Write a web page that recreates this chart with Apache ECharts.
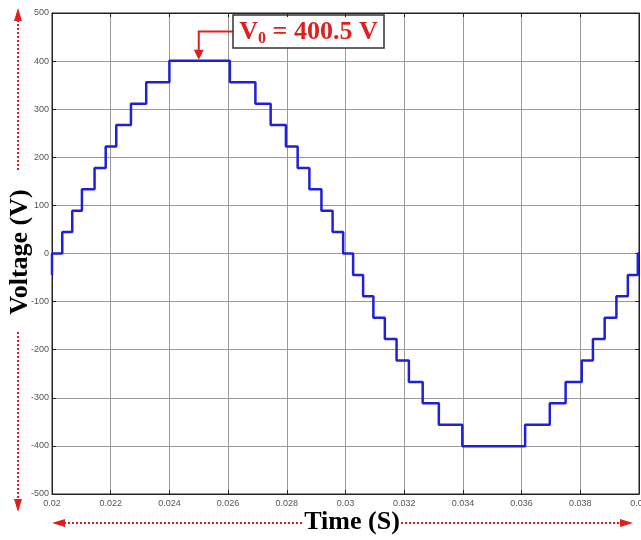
<!DOCTYPE html>
<html>
<head>
<meta charset="utf-8">
<script src="https://cdn.jsdelivr.net/npm/echarts@6/dist/echarts.min.js"></script>
<style>
html,body{margin:0;padding:0;background:#fff;}
#chart{width:641px;height:540px;}
</style>
</head>
<body>
<div id="chart"></div>
<script>
// Staircase transition times (s) and the voltage level held from each time onward (V)
const times = [0.02, 0.02, 0.02035, 0.02069, 0.02102, 0.02145, 0.02183, 0.02219, 0.02269, 0.02321, 0.0240,
  0.02606, 0.02693, 0.02745, 0.02797, 0.02837, 0.02877, 0.02918, 0.02956, 0.02992,
  0.03026, 0.0306, 0.03095, 0.03134, 0.03174, 0.03216, 0.03263, 0.03318, 0.03398,
  0.03612, 0.03696, 0.0375, 0.03805, 0.03843, 0.03883, 0.03923, 0.03962, 0.03996, 0.04];
const levels = [-44.5, 0, 44.5, 89, 133.5, 178, 222.5, 267, 311.5, 356, 400.5,
  356, 311.5, 267, 222.5, 178, 133.5, 89, 44.5, 0,
  -44.5, -89, -133.5, -178, -222.5, -267, -311.5, -356, -400.5,
  -356, -311.5, -267, -222.5, -178, -133.5, -89, -44.5, 0, 0];
const peakPoint = [0.025, 400.5];
const annotationText = 'V0 = 400.5 V';
const xTitle = 'Time (S)';
const yTitle = 'Voltage (V)';

const data = times.map((t, i) => [t, levels[i]]);
const chart = echarts.init(document.getElementById('chart'), null, {renderer: 'canvas'});
const RED = '#e01e1e';
const labelStyle = {color: '#555', fontSize: 9, fontFamily: 'Liberation Sans, Arial, sans-serif'};

chart.setOption({
  animation: false,
  backgroundColor: '#fff',
  grid: {left: 52, right: 2, top: 13, bottom: 46, show: true, borderColor: '#222', borderWidth: 1,
         containLabel: false, outerBoundsMode: 'none'},
  xAxis: [{
    type: 'value', min: 0.02, max: 0.04, interval: 0.002,
    axisLine: {show: true, onZero: false, lineStyle: {color: '#222', width: 1}},
    axisTick: {show: true, inside: true, length: 4, lineStyle: {color: '#222'}},
    splitLine: {show: true, lineStyle: {color: '#9a9a9a', width: 1}},
    axisLabel: Object.assign({margin: 5, showMinLabel: true, showMaxLabel: true, hideOverlap: false,
      formatter: v => String(+v.toFixed(3))}, labelStyle)
  }, {
    type: 'value', position: 'top', min: 0.02, max: 0.04, interval: 0.002,
    axisLine: {show: true, onZero: false, lineStyle: {color: '#222'}},
    axisTick: {show: true, inside: true, length: 4, lineStyle: {color: '#222'}},
    axisLabel: {show: false}, splitLine: {show: false}
  }],
  yAxis: [{
    type: 'value', min: -500, max: 500, interval: 100,
    axisLine: {show: true, onZero: false, lineStyle: {color: '#222', width: 1}},
    axisTick: {show: true, inside: true, length: 4, lineStyle: {color: '#222'}},
    splitLine: {show: true, lineStyle: {color: '#9a9a9a', width: 1}},
    axisLabel: Object.assign({margin: 3, showMinLabel: true, showMaxLabel: true}, labelStyle)
  }, {
    type: 'value', position: 'right', min: -500, max: 500, interval: 100,
    axisLine: {show: true, onZero: false, lineStyle: {color: '#222'}},
    axisTick: {show: true, inside: true, length: 4, lineStyle: {color: '#222'}},
    axisLabel: {show: false}, splitLine: {show: false}
  }],
  series: [{
    type: 'line', step: 'end', data: data, showSymbol: false, symbol: 'none',
    xAxisIndex: 0, yAxisIndex: 0,
    lineStyle: {color: '#2020d8', width: 2.5}, clip: true
  }]
});

const tip = chart.convertToPixel({xAxisIndex: 0, yAxisIndex: 0}, peakPoint);
const tx = tip[0], ty = tip[1];
const boxL = 233, boxT = 15, boxW = 151, boxH = 33, boxMid = boxT + boxH / 2;
const dash = {stroke: RED, lineWidth: 2, lineDash: [2, 2]};
const serifBold = 'bold 26px "Liberation Serif", "Times New Roman", serif';

chart.setOption({
  graphic: [
    // Y title
    {type: 'text', x: 20, y: 252, rotation: Math.PI / 2,
     style: {text: yTitle, font: serifBold, fill: '#000', align: 'center', verticalAlign: 'middle'}},
    // X title
    {type: 'text', x: 352, y: 522,
     style: {text: xTitle, font: serifBold, fill: '#000', align: 'center', verticalAlign: 'middle'}},
    // vertical dotted arrows
    {type: 'line', shape: {x1: 18, y1: 20, x2: 18, y2: 172}, style: dash},
    {type: 'polygon', shape: {points: [[18, 8], [14, 21], [22, 21]]}, style: {fill: RED}},
    {type: 'line', shape: {x1: 18, y1: 332, x2: 18, y2: 500}, style: dash},
    {type: 'polygon', shape: {points: [[18, 512], [14, 499], [22, 499]]}, style: {fill: RED}},
    // horizontal dotted arrows
    {type: 'line', shape: {x1: 64, y1: 523, x2: 302, y2: 523}, style: dash},
    {type: 'polygon', shape: {points: [[52, 523], [65, 519], [65, 527]]}, style: {fill: RED}},
    {type: 'line', shape: {x1: 401, y1: 523, x2: 621, y2: 523}, style: dash},
    {type: 'polygon', shape: {points: [[633, 523], [620, 519], [620, 527]]}, style: {fill: RED}},
    // annotation
    {type: 'polyline', shape: {points: [[boxL, boxMid], [tx, boxMid], [tx, ty - 9]]},
     style: {stroke: RED, lineWidth: 2, fill: null}},
    {type: 'polygon', shape: {points: [[tx, ty - 1], [tx - 5, ty - 11], [tx + 5, ty - 11]]}, style: {fill: RED}},
    {type: 'rect', shape: {x: boxL, y: boxT, width: boxW, height: boxH},
     style: {fill: '#fff', stroke: '#333', lineWidth: 1.5}},
    {type: 'text', x: boxL + boxW / 2, y: boxMid + 1,
     style: {
       text: '{v|' + annotationText.slice(0, 1) + '}{s|' + annotationText.slice(1, 2) + '}{v|' + annotationText.slice(2) + '}',
       align: 'center', verticalAlign: 'middle',
       rich: {
         v: {font: serifBold, fill: RED, fontSize: 26, fontWeight: 'bold', fontFamily: '"Liberation Serif", serif'},
         s: {fill: RED, fontSize: 16, fontWeight: 'bold', fontFamily: '"Liberation Serif", serif', padding: [12, 0, 0, 0]}
       }
     }}
  ]
});
</script>
</body>
</html>
